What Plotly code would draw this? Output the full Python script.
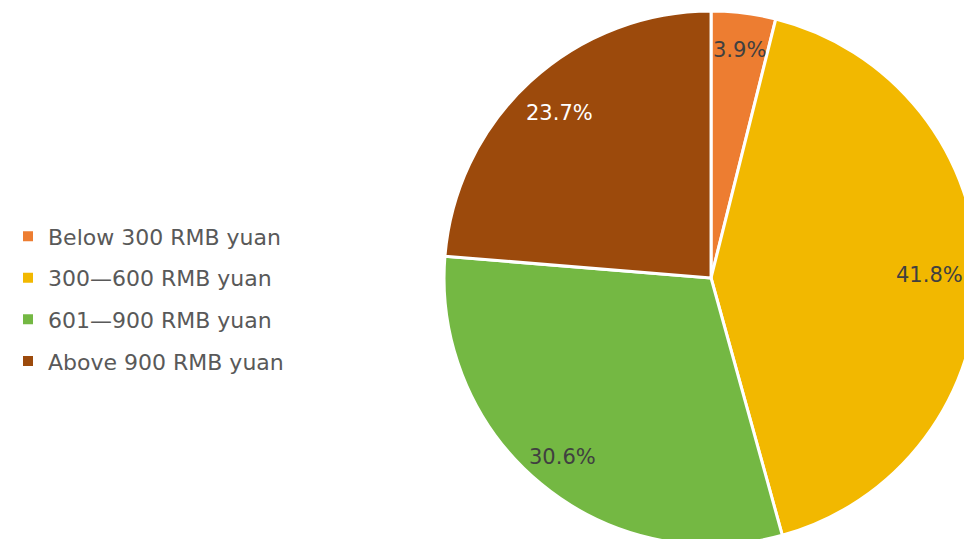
import math
import plotly.graph_objects as go

# share of respondents by spending range
labels = ["Below 300 RMB yuan", "300\u2014600 RMB yuan", "601\u2014900 RMB yuan", "Above 900 RMB yuan"]
values = [3.9, 41.8, 30.6, 23.7]
colors = ["#ED7D31", "#F2B800", "#74B843", "#9C4A0C"]
text_colors = ["#404040", "#404040", "#404040", "#FFFFFF"]

# styling: how far out along the radius each percentage label sits
LABEL_R = [0.86, 0.82, 0.87, 0.84]

W, H = 972, 539
M_T, M_B = 3, 2
DOM_X = [0.4486, 0.998]
FONT = "DejaVu Sans"

fig = go.Figure()
fig.add_trace(
    go.Pie(
        labels=labels,
        values=values,
        sort=False,
        direction="clockwise",
        rotation=0,
        marker=dict(colors=colors, line=dict(color="#FFFFFF", width=3)),
        textinfo="none",
        domain=dict(x=DOM_X, y=[0, 1]),
        hoverinfo="label+percent",
        showlegend=False,
    )
)

# legend entries, one group each so the rows can be spaced apart
for lab, col in zip(labels, colors):
    fig.add_trace(
        go.Scatter(
            x=[None],
            y=[None],
            mode="markers",
            marker=dict(symbol="square", size=10, color=col),
            name=lab,
            legendgroup=lab,
            showlegend=True,
        )
    )

# percentage labels placed near the rim, like the original
plot_h = H - M_T - M_B
dom_w = (DOM_X[1] - DOM_X[0]) * W
radius = min(dom_w, plot_h) / 2
cx = (DOM_X[0] + DOM_X[1]) / 2 * W
cy = M_T + plot_h / 2
total = sum(values)
start = 0.0
for val, tcol, rf in zip(values, text_colors, LABEL_R):
    mid = (start + val / 2) / total * 2 * math.pi
    start += val
    px = cx + rf * radius * math.sin(mid)
    py = cy - rf * radius * math.cos(mid)
    fig.add_annotation(
        x=px / W,
        y=(H - M_B - py) / plot_h,
        xref="paper",
        yref="paper",
        text=f"{val:.1f}%",
        showarrow=False,
        xanchor="center",
        yanchor="middle",
        font=dict(size=21, family=FONT, color=tcol),
    )

fig.update_xaxes(visible=False)
fig.update_yaxes(visible=False)
fig.update_layout(
    width=W,
    height=H,
    margin=dict(l=0, r=0, t=M_T, b=M_B),
    paper_bgcolor="white",
    plot_bgcolor="white",
    showlegend=True,
    legend=dict(
        x=0,
        xanchor="left",
        y=0.461,
        yanchor="middle",
        font=dict(size=22, family=FONT, color="#595959"),
        tracegroupgap=10,
        bgcolor="rgba(0,0,0,0)",
    ),
)

fig.write_html("out.html")
